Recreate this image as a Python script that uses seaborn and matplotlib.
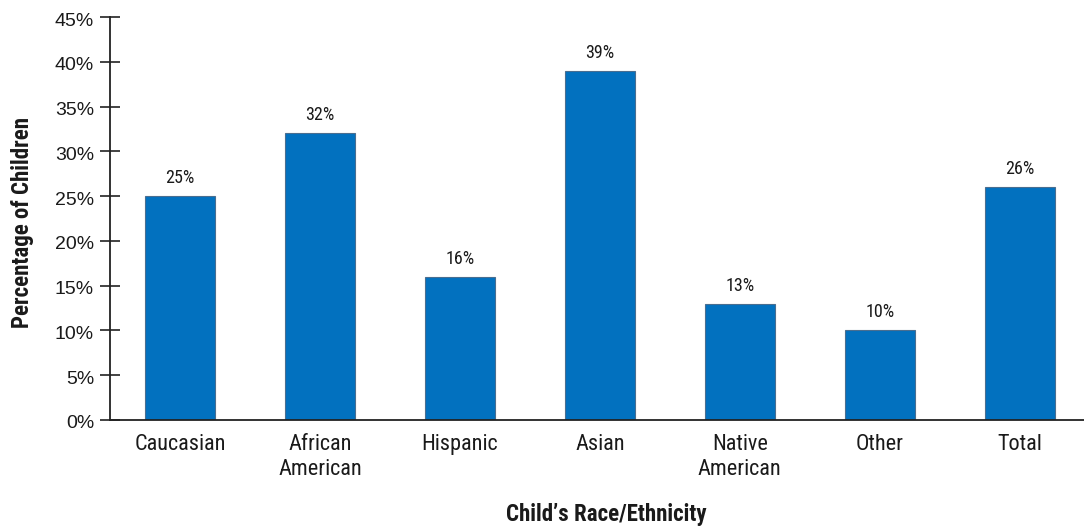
import matplotlib
matplotlib.use("Agg")
import matplotlib.pyplot as plt
import matplotlib.transforms as mtransforms
import seaborn as sns
import pandas as pd

categories = ["Caucasian", "African\nAmerican", "Hispanic", "Asian", "Native\nAmerican", "Other", "Total"]
values = [25, 32, 16, 39, 13, 10, 26]
yticks = [0, 5, 10, 15, 20, 25, 30, 35, 40, 45]

sns.set_style("white")
COND = ["Roboto Condensed", "DejaVu Sans"]
plt.rcParams['font.family'] = COND

df = pd.DataFrame({"cat": categories, "val": values})

fig = plt.figure(figsize=(10.84, 5.27), dpi=100)
ax = fig.add_axes([110/1084, (527-420)/527, 1 - 110/1084, (420-17)/527])
sns.barplot(data=df, x="cat", y="val", color="#0271BF", width=0.5,
            edgecolor="#4A6E90", linewidth=0.8, saturation=1, ax=ax)

ax.set_xlim(-0.5, 6.46)
ax.set_ylim(0, 45)
ax.set_yticks(yticks)
ax.set_yticklabels([f"{t}%" for t in yticks], fontsize=14,
                   family=["Liberation Sans", "DejaVu Sans"], color="#1a1a1a")
ax.tick_params(axis="y", left=True, direction="inout", length=15, width=1.2,
               color="#222222", pad=4)
ax.tick_params(axis="x", bottom=False, length=0, labelsize=16, pad=10,
               labelcolor="#1a1a1a")
for lab in ax.get_xticklabels():
    lab.set_linespacing(1.25)
offset = mtransforms.ScaledTranslation(0, -2/100, fig.dpi_scale_trans)
for lab in ax.get_yticklabels():
    lab.set_transform(lab.get_transform() + offset)

for s in ["top", "right"]:
    ax.spines[s].set_visible(False)
for s in ["left", "bottom"]:
    ax.spines[s].set_color("#222222")
    ax.spines[s].set_linewidth(1.3)

for i, v in enumerate(values):
    ax.text(i, v + 1.0, f"{v}%", ha="center", va="bottom", fontsize=13, color="#1a1a1a")

ax.set_ylabel("Percentage of Children", fontsize=16.5, fontweight="bold", color="#1a1a1a")
ax.yaxis.set_label_coords(-(110 - 23) / (1084 - 110), 0.49)
ax.set_xlabel("Child\u2019s Race/Ethnicity", fontsize=16.5, fontweight="bold", color="#1a1a1a")
ax.xaxis.set_label_coords((606 - 110) / (1084 - 110), -(514 - 420) / (420 - 17))
ax.xaxis.label.set_va("center")
ax.yaxis.label.set_va("center")

fig.savefig("out.png", dpi=100)
